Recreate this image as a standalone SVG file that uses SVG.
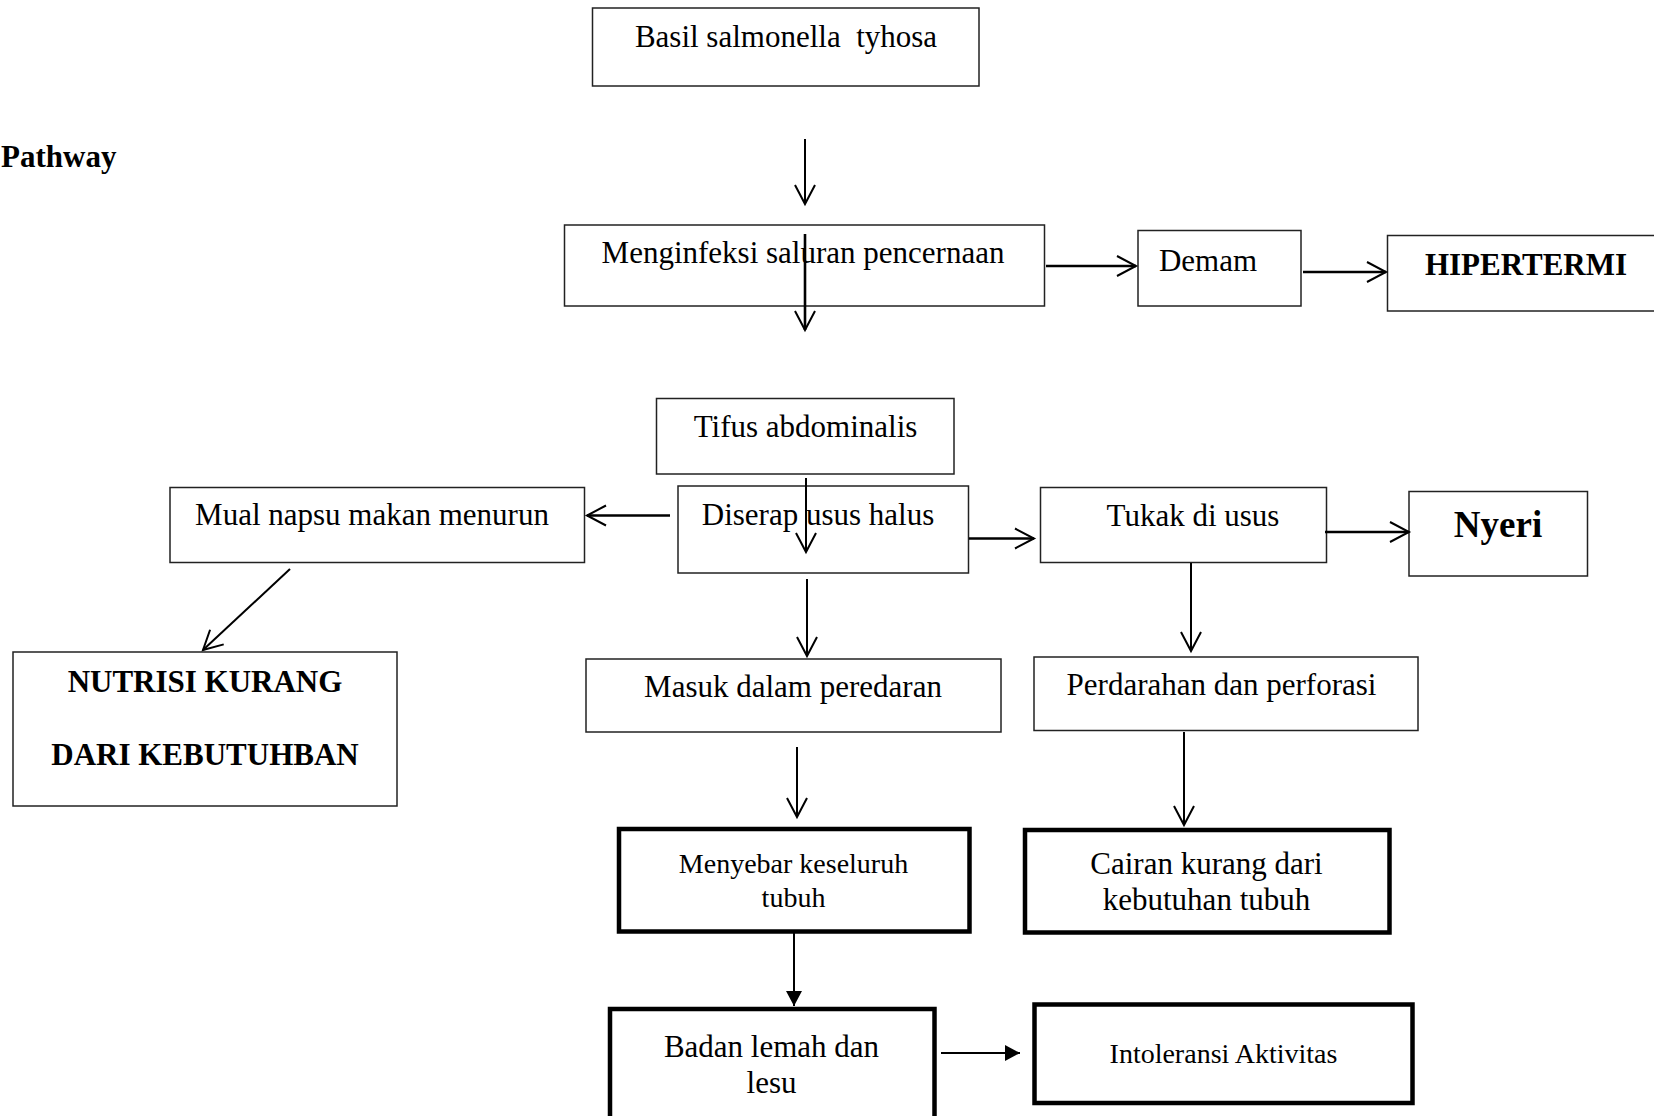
<svg xmlns="http://www.w3.org/2000/svg" width="1654" height="1116" viewBox="0 0 1654 1116">
<style>
.box{fill:#fff;stroke:#222;stroke-width:1.5}
.thick{fill:#fff;stroke:#000;stroke-width:4.5}
.t{font-family:"Liberation Serif","Times New Roman",serif;font-size:31px;fill:#000;text-anchor:middle}
.b{font-weight:bold}
.s{font-size:28px}
.c{stroke:#000;stroke-width:2;fill:none}
.w{stroke-width:2.6}
</style>
<defs>
<marker id="open" markerUnits="userSpaceOnUse" viewBox="0 0 22 22" markerWidth="22" markerHeight="22" refX="20" refY="11" orient="auto" overflow="visible">
<path d="M1,1 L20,11 L1,21" fill="none" stroke="#000" stroke-width="2"/>
</marker>
<marker id="fill" markerUnits="userSpaceOnUse" viewBox="0 0 16 16" markerWidth="16" markerHeight="16" refX="15" refY="8" orient="auto" overflow="visible">
<path d="M0,0 L15,8 L0,16 z" fill="#000"/>
</marker>
</defs>
<rect width="1654" height="1116" fill="#fff"/>
<text class="t b" x="1" y="167" style="text-anchor:start">Pathway</text>

<g id="basil"><rect class="box" x="592.5" y="8" width="386.5" height="78"/><text class="t" x="786" y="47" xml:space="preserve">Basil salmonella  tyhosa</text></g>
<g id="menginfeksi"><rect class="box" x="564.5" y="225" width="480" height="81"/><text class="t" x="803" y="263">Menginfeksi saluran pencernaan</text></g>
<g id="demam"><rect class="box" x="1138" y="230.5" width="163" height="75.5"/><text class="t" x="1208" y="271">Demam</text></g>
<g id="hipertermi"><rect class="box" x="1387.5" y="235.5" width="280" height="75.5"/><text class="t b" x="1526" y="275">HIPERTERMI</text></g>
<g id="tifus"><rect class="box" x="656.5" y="398.5" width="297.5" height="75.5"/><text class="t" x="805.5" y="437">Tifus abdominalis</text></g>
<g id="diserap"><rect class="box" x="678" y="486" width="290.5" height="87"/><text class="t" x="818" y="525">Diserap usus halus</text></g>
<g id="mual"><rect class="box" x="170" y="487.5" width="414.5" height="75"/><text class="t" x="372" y="525">Mual napsu makan menurun</text></g>
<g id="nutrisi"><rect class="box" x="13" y="652" width="384" height="154"/><text class="t b" x="205" y="691.5">NUTRISI KURANG</text><text class="t b" x="205" y="765">DARI KEBUTUHBAN</text></g>
<g id="tukak"><rect class="box" x="1040.5" y="487.5" width="286" height="75"/><text class="t" x="1193" y="526">Tukak di usus</text></g>
<g id="nyeri"><rect class="box" x="1409" y="491.5" width="178.5" height="84.5"/><text class="t b" x="1498" y="537" style="font-size:37px">Nyeri</text></g>
<g id="masuk"><rect class="box" x="586" y="659" width="415" height="73"/><text class="t" x="793" y="697">Masuk dalam peredaran</text></g>
<g id="perdarahan"><rect class="box" x="1034" y="657" width="384" height="73.5"/><text class="t" x="1221.5" y="695">Perdarahan dan perforasi</text></g>
<g id="menyebar"><rect class="thick" x="619" y="829" width="350.5" height="102.5"/><text class="t s" x="793.5" y="873">Menyebar keseluruh</text><text class="t s" x="793.5" y="907">tubuh</text></g>
<g id="cairan"><rect class="thick" x="1025" y="830" width="364.5" height="102.5"/><text class="t" x="1206.5" y="874">Cairan kurang dari</text><text class="t" x="1206.5" y="910">kebutuhan tubuh</text></g>
<g id="badan"><rect class="thick" x="610" y="1009" width="324.5" height="120"/><text class="t" x="771.5" y="1057">Badan lemah dan</text><text class="t" x="771.5" y="1093">lesu</text></g>
<g id="intoleransi"><rect class="thick" x="1034.5" y="1004.5" width="378" height="98.5"/><text class="t s" x="1223.5" y="1063">Intoleransi Aktivitas</text></g>

<g id="connectors">
<line class="c" x1="805" y1="139" x2="805" y2="204" marker-end="url(#open)"/>
<line class="c w" x1="805" y1="234" x2="805" y2="330" marker-end="url(#open)"/>
<line class="c w" x1="1046" y1="266" x2="1136" y2="266" marker-end="url(#open)"/>
<line class="c w" x1="1303" y1="272" x2="1386" y2="272" marker-end="url(#open)"/>
<line class="c" x1="806" y1="478" x2="806" y2="552" marker-end="url(#open)"/>
<line class="c w" x1="670" y1="515.5" x2="587" y2="515.5" marker-end="url(#open)"/>
<line class="c" x1="290" y1="569" x2="203" y2="650" marker-end="url(#open)"/>
<line class="c w" x1="969" y1="538.5" x2="1034" y2="538.5" marker-end="url(#open)"/>
<line class="c w" x1="1325" y1="532" x2="1409" y2="532" marker-end="url(#open)"/>
<line class="c" x1="807" y1="579" x2="807" y2="656" marker-end="url(#open)"/>
<line class="c" x1="1191" y1="563" x2="1191" y2="651" marker-end="url(#open)"/>
<line class="c" x1="797" y1="747" x2="797" y2="817" marker-end="url(#open)"/>
<line class="c" x1="1184" y1="732" x2="1184" y2="825" marker-end="url(#open)"/>
<line class="c" x1="794" y1="933" x2="794" y2="1006" marker-end="url(#fill)"/>
<line class="c" x1="941" y1="1053" x2="1020" y2="1053" marker-end="url(#fill)"/>
</g>
</svg>
